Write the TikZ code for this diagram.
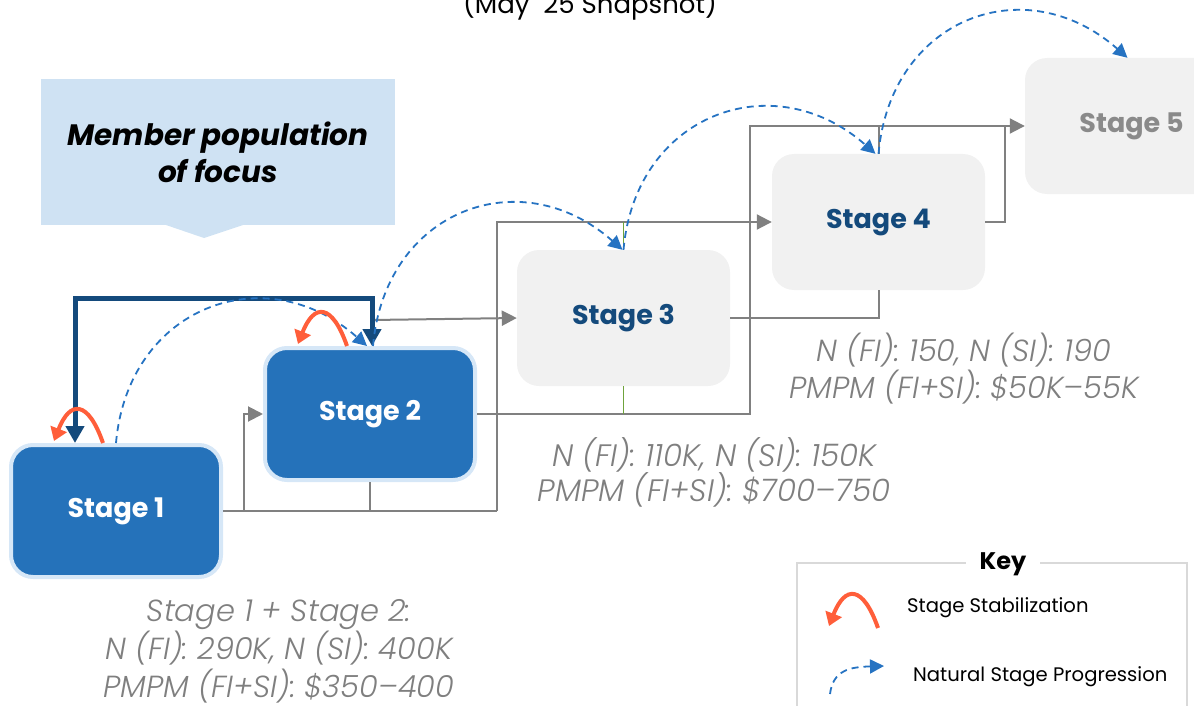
\documentclass[tikz,border=0pt]{standalone}
\usepackage{fontspec}
\setmainfont{Poppins}
\newfontfamily\lightface{Poppins Light}[ItalicFont={Poppins Light Italic}]
\usetikzlibrary{arrows.meta,calc}

\definecolor{stageblue}{HTML}{2572BA}
\definecolor{stageedge}{HTML}{D6E7F7}
\definecolor{stagegray}{HTML}{F1F1F1}
\definecolor{navy}{HTML}{144A7C}
\definecolor{flowgray}{HTML}{808080}
\definecolor{infogray}{HTML}{7F7F7F}
\definecolor{fadedgray}{HTML}{8A8A8A}
\definecolor{dashblue}{HTML}{2673C2}
\definecolor{stabred}{HTML}{FF5E3A}
\definecolor{focusblue}{HTML}{CFE2F3}
\definecolor{joingreen}{HTML}{6FA33C}
\definecolor{keyedge}{HTML}{D9D9D9}

\tikzset{
  stagefont/.style={font=\fontsize{27}{32}\selectfont\bfseries},
  activestage/.style={rectangle, rounded corners=22pt, fill=stageblue, draw=stageedge,
    line width=4pt, minimum width=210pt, minimum height=132pt, text=white, stagefont},
  laterstage/.style={rectangle, rounded corners=22pt, fill=stagegray, draw=none,
    minimum width=213pt, minimum height=136pt, text=navy, stagefont},
  infotext/.style={align=center, text=infogray, font=\lightface\fontsize{30.5}{38}\selectfont\itshape},
  flow/.style={draw=flowgray, line width=2pt},
  flowtip/.style={-{Triangle[length=15pt,width=15pt]}},
  joinline/.style={draw=joingreen, line width=1.6pt},
  navyline/.style={draw=navy, line width=5pt,
    {Triangle[length=17pt,width=18pt]}-{Triangle[length=17pt,width=18pt]}},
  prog/.style={draw=dashblue, line width=1.8pt, dash pattern=on 7pt off 5pt,
    -{Triangle[length=14pt,width=14pt]}},
  stab/.style={draw=stabred, line width=4pt, -{Triangle[length=13pt,width=17pt]}},
  keytext/.style={anchor=west, inner sep=0pt, font=\fontsize{19.6}{23}\selectfont},
}

\begin{document}
\begin{tikzpicture}[x=1pt,y=-1pt]
\useasboundingbox (0,0) rectangle (1194,706);

% heading, partly above the page edge
\node[anchor=base, font=\fontsize{26}{30}\selectfont] (title) at (590,14) {(May\ \ 25 Snapshot)};

% callout naming the focus population
\fill[focusblue] (163,224) -- (204,238) -- (246,224) -- cycle;
\node[fill=focusblue, minimum width=354pt, minimum height=146pt, align=center,
      font=\fontsize{29.5}{37}\selectfont\bfseries\itshape] (focus) at (218,152)
      {Member population\\of focus};

% stage boxes
\node[activestage] (s1) at (116,511) {Stage 1};
\node[activestage] (s2) at (370,414) {Stage 2};
\node[laterstage] (s3) at (623.5,318) {Stage 3};
\node[laterstage] (s4) at (878.5,222) {Stage 4};
\node[laterstage, text=fadedgray] (s5) at (1131.5,126) {Stage 5};

% rail points of the orthogonal connectors
\coordinate (rail1) at (497,511);
\coordinate (rail2) at (750,414);
\coordinate (gate) at ($(s2.north)+(2,-26)$);

% gray pathway connectors
\draw[flow] (s1.east) -- (rail1);
\draw[flow,flowtip] ($(s1.east)+(21,0)$) |- (s2.west);
\draw[flow] (s2.south) -- (s2.south |- rail1);
\draw[flow,flowtip] (rail1) |- (s4.west);
\draw[flow,flowtip] (gate) -- (s3.west);
\draw[flow,flowtip] (s2.east) -- (rail2) |- (s5.west);
\draw[flow] (s3.east) -| (s4.south);
\draw[flow] (s4.east) -- ++(20,0) -- ($(s4.east)+(20,-96)$);
\draw[flow] (s4.north) -- (s4.north |- s5.west);
\draw[joinline] (s3.north) -- (s3.north |- s4.west);
\draw[joinline] (s3.south) -- (s3.south |- rail2);

% two-way link between stage 1 and stage 2
\draw[navyline] ([xshift=2pt]s2.north) -- ++(0,-48) -| ([xshift=-41pt]s1.north);

% natural progression arcs
\draw[prog] (s1.north) .. controls ($(s1.north)+(12,-136)$)
  and ($(s2.north)+(-105,-90)$) .. ([xshift=-3pt]s2.north);
\draw[prog] ([xshift=3pt]s2.north) .. controls ($(s2.north)+(15,-136)$)
  and ($(s3.north)+(-103,-90)$) .. ([xshift=-1pt]s3.north);
\draw[prog] (s3.north) .. controls ($(s3.north)+(12,-136)$)
  and ($(s4.north)+(-105,-90)$) .. ([xshift=-3pt]s4.north);
\draw[prog] (s4.north) .. controls ($(s4.north)+(12,-136)$)
  and ($(s5.north)+(-106,-90)$) .. ([xshift=-4pt]s5.north);

% stabilization loops
\draw[stab] ([xshift=-13pt]s1.north) .. controls ([xshift=-28pt,yshift=43pt]s1.north)
  and ([xshift=-46pt,yshift=43pt]s1.north) .. ([xshift=-62pt,yshift=2pt]s1.north);
\draw[stab] ([xshift=-23pt]s2.north) .. controls ([xshift=-38pt,yshift=43pt]s2.north)
  and ([xshift=-56pt,yshift=43pt]s2.north) .. ([xshift=-72pt,yshift=2pt]s2.north);

% population and cost figures
\node[infotext] (info12) at (279,651) {Stage 1 + Stage 2:\\N (FI): 290K, N (SI): 400K\\PMPM (FI+SI): \$350–400};
\node[infotext, font=\lightface\fontsize{31}{35}\selectfont\itshape] (info3) at (714,472) {N (FI): 110K, N (SI): 150K\\PMPM (FI+SI): \$700–750};
\node[infotext, font=\lightface\fontsize{30.5}{37}\selectfont\itshape] (info4) at (964,369) {N (FI): 150, N (SI): 190\\PMPM (FI+SI): \$50K–55K};

% key
\draw[keyedge, line width=2pt] (797,720) -- (797,563) -- (1187,563) -- (1187,720);
\node[fill=white, inner xsep=14pt, font=\fontsize{24}{28}\selectfont\bfseries] (keytitle) at (1003,564) {Key};
\coordinate (keystab) at (878,628);
\draw[stab] (keystab) .. controls ($(keystab)+(-15,-43)$) and ($(keystab)+(-33,-43)$) .. ($(keystab)+(-49,-2)$);
\node[keytext] (keystabtext) at (907,608) {Stage Stabilization};
\coordinate (keyprog) at (830,694);
\draw[prog] (keyprog) .. controls ($(keyprog)+(3,-24)$) and ($(keyprog)+(20,-27)$) .. ($(keyprog)+(54,-28)$);
\node[keytext] (keyprogtext) at (913,677) {Natural Stage Progression};
\end{tikzpicture}
\end{document}
